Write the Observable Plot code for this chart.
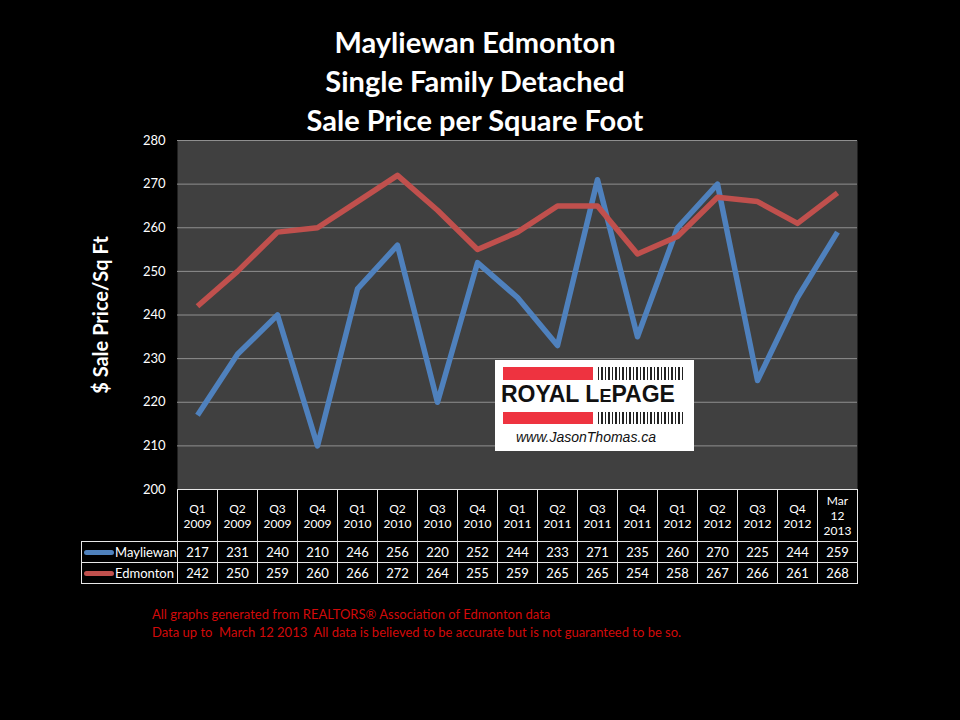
<!DOCTYPE html>
<html>
<head>
<meta charset="utf-8">
<script src="https://cdn.jsdelivr.net/npm/d3@7"></script>
<script src="https://cdn.jsdelivr.net/npm/@observablehq/plot@0.6"></script>
<style>
  html, body { margin: 0; padding: 0; background: #000; }
  #wrap { position: relative; width: 960px; height: 720px; background: #000; overflow: hidden; font-family: Lato, "Open Sans", sans-serif; color: #fff; }
  #wrap svg { position: absolute; left: 0; top: 0; }
  .title { position: absolute; left: 0; width: 950px; text-align: center; font-weight: bold; font-size: 29px; line-height: 39px; top: 22px; }
  .ylab { position: absolute; left: 100px; top: 315px; transform: translate(-50%, -50%) rotate(-90deg); font-weight: bold; font-size: 20px; white-space: nowrap; }
  .cell { position: absolute; box-sizing: border-box; display: flex; align-items: center; justify-content: center; text-align: center; font-size: 13px; color: #fff; }
  .foot { position: absolute; left: 152px; font-size: 13px; color: #d20a0a; white-space: pre; }
  .logo { position: absolute; left: 495px; top: 360px; width: 199px; height: 91px; background: #fff; }
  .bar { position: absolute; background: #ee3340; }
  .code { position: absolute; background: repeating-linear-gradient(90deg, #222 0px, #222 1.5px, #fff 1.5px, #fff 3.5px); }
</style>
</head>
<body>
<div id="wrap"></div>
<script>
const categories = ["Q1\n2009","Q2\n2009","Q3\n2009","Q4\n2009","Q1\n2010","Q2\n2010","Q3\n2010","Q4\n2010","Q1\n2011","Q2\n2011","Q3\n2011","Q4\n2011","Q1\n2012","Q2\n2012","Q3\n2012","Q4\n2012","Mar\n12\n2013"];
const mayliewan = [217,231,240,210,246,256,220,252,244,233,271,235,260,270,225,244,259];
const edmonton  = [242,250,259,260,266,272,264,255,259,265,265,254,258,267,266,261,268];
const seriesNames = ["Mayliewan","Edmonton"];
const seriesColors = ["#4f81bd","#c0504d"];
const yTicks = [200,210,220,230,240,250,260,270,280];
const titleLines = ["Mayliewan Edmonton","Single Family Detached","Sale Price per Square Foot"];
const yLabel = "$ Sale Price/Sq Ft";
const footLines = ["All graphs generated from REALTORS\u00AE Association of Edmonton data","Data up to  March 12 2013  All data is believed to be accurate but is not guaranteed to be so."];

(function () {
const seriesValues = [mayliewan, edmonton];
const rows = [];
seriesNames.forEach((s, k) => seriesValues[k].forEach((v, i) => rows.push({series: s, i, v})));

const pL = 177, pR = 857, pT = 140, pB = 489;
const wrap = document.getElementById("wrap");

const chart = Plot.plot({
  width: 960, height: 720,
  marginLeft: pL, marginRight: 960 - pR, marginTop: pT, marginBottom: 720 - pB,
  style: {background: "transparent", color: "#fff", fontFamily: "Lato, 'Open Sans', sans-serif", fontSize: "13px"},
  x: {type: "point", domain: d3.range(categories.length), padding: 0.5, axis: null},
  y: {domain: [200, 280], ticks: yTicks, tickSize: 0, tickPadding: 12, label: null},
  color: {domain: seriesNames, range: seriesColors},
  marks: [
    Plot.frame({fill: "#404040", stroke: "none"}),
    Plot.ruleY(yTicks, {stroke: "#8f8f8f", strokeWidth: 1}),
    Plot.line(rows, {x: "i", y: "v", z: "series", stroke: "series", strokeWidth: 5.5, strokeLinejoin: "round", strokeLinecap: "butt"})
  ]
});
wrap.appendChild(chart);

const t = document.createElement("div");
t.className = "title";
t.innerHTML = titleLines.join("<br>");
wrap.appendChild(t);

const yl = document.createElement("div");
yl.className = "ylab";
yl.textContent = yLabel;
wrap.appendChild(yl);

const logo = document.createElement("div");
logo.className = "logo";
logo.innerHTML = `
  <div class="bar" style="left:8px;top:7px;width:90px;height:13px"></div>
  <div class="code" style="left:103px;top:7px;width:86px;height:13px"></div>
  <div style="position:absolute;left:6px;top:21px;width:190px;font-family:'Liberation Sans',Arial,sans-serif;font-weight:bold;font-size:23px;color:#111;letter-spacing:0px;white-space:nowrap">ROYAL L<span style="font-size:18px">E</span>PAGE</div>
  <div class="bar" style="left:8px;top:52px;width:90px;height:12px"></div>
  <div class="code" style="left:103px;top:52px;width:86px;height:12px"></div>
  <div style="position:absolute;left:21px;top:69px;font-family:'Liberation Sans',Arial,sans-serif;font-style:italic;font-size:14px;color:#111;white-space:nowrap">www.JasonThomas.ca</div>`;
wrap.appendChild(logo);

const cw = (pR - pL) / categories.length;
const rowY = [pB, 541, 562, 583];
const tableLeft = 81;
function cell(x, y, w, h, html, style) {
  const d = document.createElement("div");
  d.className = "cell";
  d.style.left = x + "px"; d.style.top = y + "px";
  d.style.width = w + "px"; d.style.height = h + "px";
  if (style) d.style.cssText += style;
  d.innerHTML = html;
  wrap.appendChild(d);
  return d;
}
const lineColor = "#e8e8e8";
categories.forEach((c, i) => {
  cell(pL + i * cw, rowY[0], cw + 1, rowY[1] - rowY[0] + 1, c.split("\n").join("<br>"),
    `border:1px solid ${lineColor};font-size:12px;line-height:15px;`);
});
seriesNames.forEach((s, k) => {
  const y0 = rowY[k + 1], h = rowY[k + 2] - rowY[k + 1] + 1;
  cell(tableLeft, y0, pL - tableLeft + 1, h,
    `<span style="display:inline-block;width:30px;height:5px;border-radius:3px;background:${seriesColors[k]};margin-right:1px;vertical-align:middle"></span><span style="vertical-align:middle">${s}</span>`,
    `border:1px solid ${lineColor};justify-content:flex-start;padding-left:2px;`);
  seriesValues[k].forEach((v, i) => {
    cell(pL + i * cw, y0, cw + 1, h, String(v), `border:1px solid ${lineColor};`);
  });
});

footLines.forEach((f, i) => {
  const d = document.createElement("div");
  d.className = "foot";
  d.style.top = (606 + i * 18) + "px";
  d.textContent = f;
  wrap.appendChild(d);
});
})();
</script>
</body>
</html>
